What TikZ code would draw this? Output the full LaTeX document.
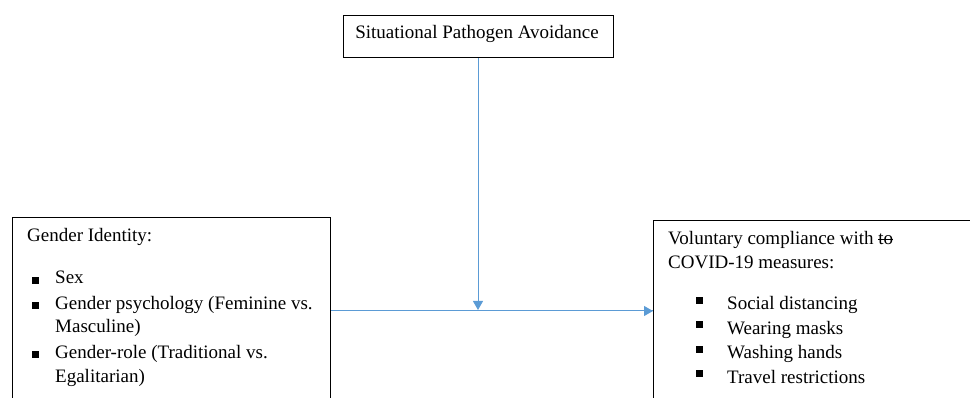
\documentclass[tikz,border=0pt]{standalone}
\usepackage{fontspec}
\setmainfont{Liberation Serif}
\usetikzlibrary{arrows.meta}
\definecolor{connblue}{HTML}{5B9BD5}
\newcommand{\mystrike}[1]{{\setbox0\hbox{#1}\rlap{\rule[0.27em]{\wd0}{0.06em}}#1}}
\tikzset{
  boxst/.style={draw=black, line width=1pt, inner sep=0pt},
  txt/.style={inner sep=0pt, anchor=base west, font=\fontsize{19}{23}\selectfont},
  bulleta/.style={fill=black, inner sep=0pt, minimum width=6.5pt, minimum height=6.5pt, anchor=south west},
  bulletb/.style={fill=black, inner sep=0pt, minimum width=7pt, minimum height=7pt, anchor=south west},
  conn/.style={draw=connblue, line width=1pt, -{Triangle[width=10pt,length=9pt]}},
  line/.style={draw=connblue, line width=1pt}
}
\begin{document}
\begin{tikzpicture}[x=1pt,y=-1pt]
\useasboundingbox (0,0) rectangle (970,398);
\clip (0,0) rectangle (970,398);
% boxes
\node[boxst, minimum width=270pt, minimum height=42pt] (top) at (478,37) {};
\node[boxst, anchor=north west, minimum width=318pt, minimum height=220pt] (left) at (12,217) {};
\node[boxst, anchor=north west, minimum width=360pt, minimum height=220pt] (right) at (653,220) {};
% top text
\node[txt, anchor=base] (toptxt) at (477,39) {Situational Pathogen Avoidance};
% left text
\node[txt] (gi) at (27,242) {Gender Identity:};
\node[bulleta] (lb1) at (32,284) {};
\node[txt] (l1) at (55,284) {Sex};
\node[bulleta] (lb2) at (32,309) {};
\node[txt] (l2) at (55,309) {Gender psychology (Feminine vs.};
\node[txt] (l2b) at (55,333) {Masculine)};
\node[bulleta] (lb3) at (32,358) {};
\node[txt] (l3) at (55,358) {Gender-role (Traditional vs.};
\node[txt] (l3b) at (55,382) {Egalitarian)};
% right text
\node[txt] (vc) at (668,245) {Voluntary compliance with \mystrike{to}};
\node[txt] (vc2) at (668,269) {COVID-19 measures:};
\node[bulletb] (rb1) at (696,304) {};
\node[txt] (r1) at (727,310) {Social distancing};
\node[bulletb] (rb2) at (696,328.5) {};
\node[txt] (r2) at (727,334.5) {Wearing masks};
\node[bulletb] (rb3) at (696,353) {};
\node[txt] (r3) at (727,359) {Washing hands};
\node[bulletb] (rb4) at (696,377.5) {};
\node[txt] (r4) at (727,383.5) {Travel restrictions};
% connectors
\coordinate (mid) at (478,310);
\coordinate (hl) at (478,311);
\draw[line] (left.east |- hl) -- (right.west |- hl);
\draw[conn] (top.south) -- (mid);
\draw[conn] (hl) -- (right.west |- hl);
\end{tikzpicture}
\end{document}
